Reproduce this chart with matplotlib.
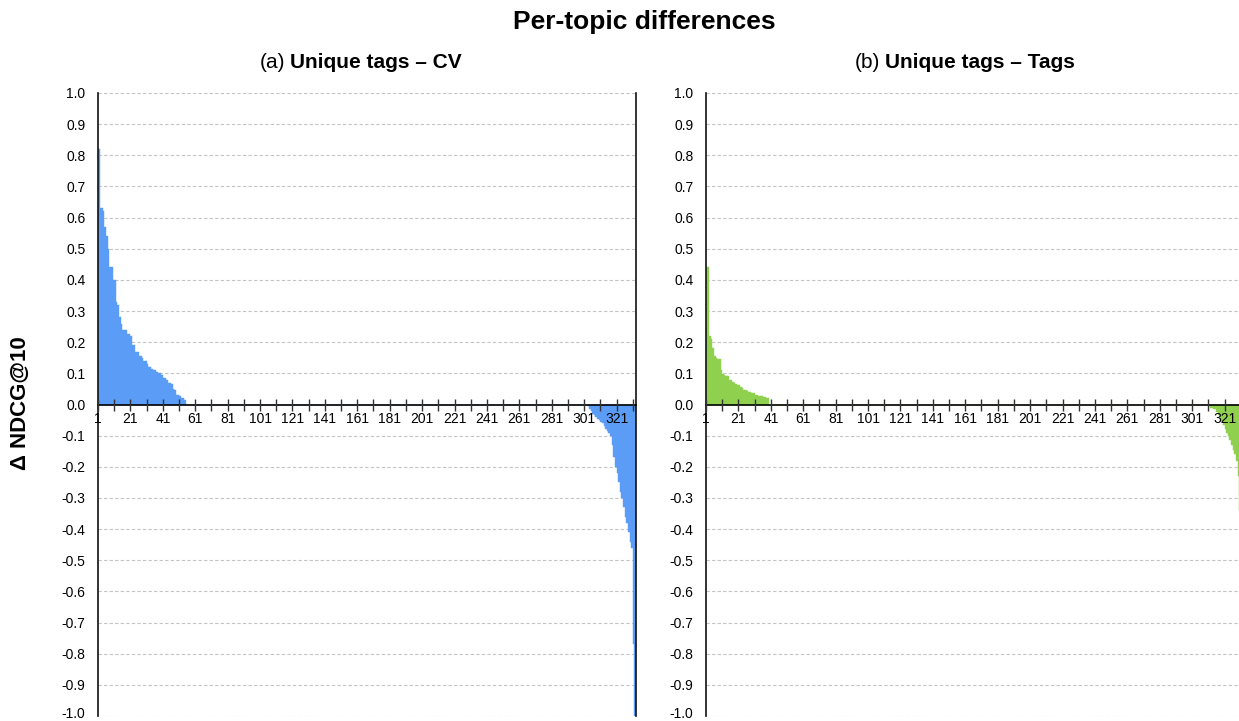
import numpy as np
import matplotlib
matplotlib.use("Agg")
import matplotlib.pyplot as plt
import matplotlib.transforms as mtransforms
from matplotlib.ticker import FixedLocator, FixedFormatter

plt.rcParams['font.family'] = ['Liberation Sans', 'DejaVu Sans']

n_topics = 332

# sorted per-topic deltas: leading gains, trailing losses, zeros in between
cv_gain = [0.82, 0.63, 0.63, 0.62, 0.57, 0.54, 0.50, 0.44, 0.44, 0.40,
           0.40, 0.33, 0.32, 0.28, 0.26, 0.24, 0.24, 0.24, 0.225, 0.225,
           0.22, 0.19, 0.19, 0.17, 0.17, 0.155, 0.155, 0.15, 0.14, 0.14,
           0.13, 0.12, 0.12, 0.115, 0.11, 0.11, 0.105, 0.10, 0.10, 0.095,
           0.085, 0.085, 0.08, 0.07, 0.07, 0.065, 0.05, 0.045, 0.03, 0.03,
           0.028, 0.02, 0.02, 0.015]
cv_loss = [-0.005, -0.015, -0.02, -0.03, -0.035, -0.04, -0.045, -0.05, -0.055, -0.06,
           -0.07, -0.08, -0.085, -0.09, -0.10, -0.13, -0.17, -0.20, -0.22, -0.25,
           -0.28, -0.30, -0.33, -0.36, -0.38, -0.41, -0.44, -0.46, -0.77, -1.0]

tags_gain = [0.44, 0.44, 0.22, 0.21, 0.18, 0.155, 0.15, 0.147, 0.145, 0.11,
             0.098, 0.095, 0.092, 0.09, 0.08, 0.078, 0.072, 0.07, 0.065, 0.064,
             0.062, 0.055, 0.053, 0.047, 0.045, 0.042, 0.041, 0.04, 0.037, 0.036,
             0.031, 0.03, 0.028, 0.027, 0.026, 0.024, 0.023, 0.022, 0.02]
tags_loss = [-0.005, -0.01, -0.012, -0.014, -0.016, -0.025, -0.035, -0.045, -0.055, -0.065,
             -0.08, -0.09, -0.10, -0.115, -0.13, -0.145, -0.16, -0.18, -0.23, -0.34,
             -0.43, -0.5]

y_ticks = [round(v, 1) + 0.0 for v in np.arange(-1.0, 1.01, 0.1)]
y_labels = ["0.0" if abs(v) < 1e-9 else f"{v:.1f}" for v in y_ticks]
x_ticks = list(range(1, n_topics + 1, 10))
x_labels = [str(t) if (t - 1) % 20 == 0 else "" for t in x_ticks]


def full_series(gain, loss):
    vals = np.zeros(n_topics)
    vals[:len(gain)] = gain
    vals[n_topics - len(loss):] = loss
    return vals


def draw_panel(ax, vals, color):
    topics = np.arange(1, n_topics + 1)
    ax.bar(topics, vals, width=1.0, align='edge', color=color,
           edgecolor=color, linewidth=0.3, zorder=1)
    for y in y_ticks:
        if abs(y) > 1e-9:
            ax.axhline(y, color='#c4c4c4', lw=0.8, ls=(0, (3, 2)), zorder=0.5)
    ax.set_xlim(1, n_topics + 1)
    ax.set_ylim(-1.0, 1.0)
    ax.set_axisbelow(False)

    ax.spines['top'].set_visible(False)
    ax.spines['bottom'].set_position(('data', 0))
    ax.spines['bottom'].set_linewidth(1.2)
    for s in ['left', 'right']:
        ax.spines[s].set_linewidth(1.2)
        ax.spines[s].set_color('#111111')

    ax.xaxis.set_major_locator(FixedLocator(x_ticks))
    ax.xaxis.set_major_formatter(FixedFormatter(x_labels))
    ax.tick_params(axis='x', direction='inout', length=8, width=1,
                   color='#333333', pad=1.5, labelsize=10)
    ax.set_yticks(y_ticks)
    ax.set_yticklabels(y_labels)
    ax.tick_params(axis='y', length=0, pad=9, labelsize=10)

    # nudge the bottom label up so it stays inside the canvas
    lowest = ax.get_yticklabels()[0]
    lowest.set_transform(lowest.get_transform() +
                         mtransforms.ScaledTranslation(0, 3 / 100, ax.figure.dpi_scale_trans))


fig = plt.figure(figsize=(12.39, 7.21), dpi=100)
W, H = 1239, 721
ax_a = fig.add_axes([98 / W, 5 / H, 538 / W, 623 / H])
ax_b = fig.add_axes([706 / W, 5 / H, 538 / W, 623 / H])

draw_panel(ax_a, full_series(cv_gain, cv_loss), '#5a9cf6')
draw_panel(ax_b, full_series(tags_gain, tags_loss), '#8fd14f')

fig.text(644.5 / W, 1 - 22 / H, "Per-topic differences", ha='center', va='center',
         fontsize=19, fontweight='bold')
fig.text(20 / W, 1 - 403 / H, "Δ NDCG@10", ha='center', va='center',
         rotation=90, fontsize=16, fontweight='bold')


def panel_title(xc, prefix, body):
    y = 1 - 63 / H
    t1 = fig.text(0, y, prefix, ha='left', va='center', fontsize=15)
    t2 = fig.text(0, y, body, ha='left', va='center', fontsize=15, fontweight='bold')
    fig.canvas.draw()
    r = fig.canvas.get_renderer()
    w1 = t1.get_window_extent(r).width
    w2 = t2.get_window_extent(r).width
    gap = 5
    left = xc - (w1 + gap + w2) / 2
    t1.set_x(left / W)
    t2.set_x((left + w1 + gap) / W)


panel_title(360.5, "(a)", "Unique tags – CV")
panel_title(964.5, "(b)", "Unique tags – Tags")

fig.savefig("out.png", dpi=100)
